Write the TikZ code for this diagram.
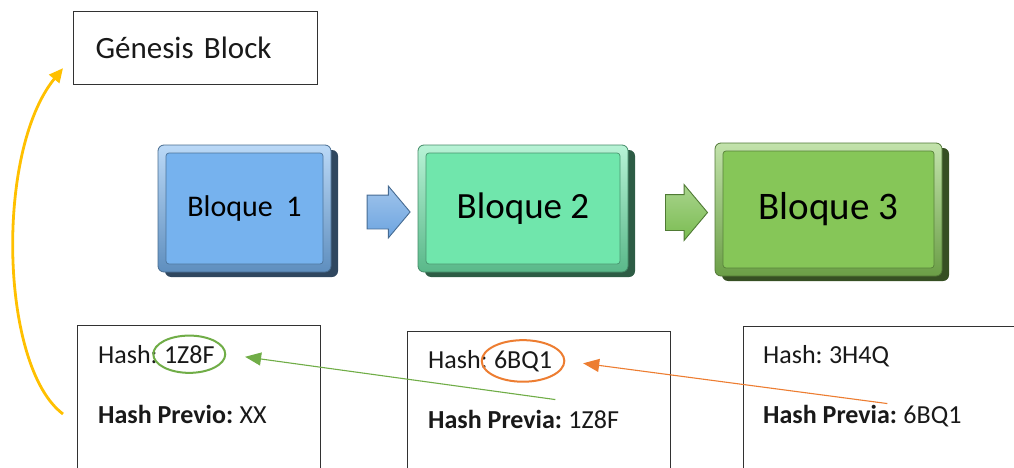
\documentclass[tikz,border=0pt]{standalone}
\usepackage{fontspec}
\setmainfont{Carlito}
\usepackage{tikz}
\usetikzlibrary{shapes.geometric, shapes.arrows, arrows.meta, positioning, calc, fit, shadows}
\definecolor{azulbloque}{RGB}{118,178,238}
\definecolor{verdebloque}{RGB}{112,230,172}
\definecolor{olivabloque}{RGB}{134,198,88}
\definecolor{azulflecha}{RGB}{108,164,224}
\definecolor{verdeflecha}{RGB}{122,188,80}
\definecolor{amarillo}{RGB}{255,192,0}
\definecolor{verdelinea}{RGB}{112,173,71}
\definecolor{naranja}{RGB}{237,125,49}
\definecolor{marco}{RGB}{50,50,50}
\definecolor{texto}{RGB}{25,25,25}
\tikzset{
  bloque/.style={rectangle, rounded corners=6pt, draw=#1!60!black, line width=0.8pt,
    top color=#1!50!white, bottom color=#1!80!black, text=black,
    path picture={\fill[#1, draw=#1!65!black, line width=0.7pt, rounded corners=3pt]
      ([shift={(8pt,-8pt)}]path picture bounding box.north west) rectangle
      ([shift={(-8pt,8pt)}]path picture bounding box.south east);},
    drop shadow={shadow xshift=7pt, shadow yshift=-5pt, fill=#1!40!black, opacity=1}},
  flecha/.style={single arrow, single arrow tip angle=100, inner xsep=0pt,
    draw=#1!65!black, line width=0.9pt, top color=#1!65!white, bottom color=#1},
  caja/.style={rectangle, draw=marco, line width=1.2pt, fill=white},
  txt/.style={inner sep=0pt, font=\fontsize{26}{30}\selectfont, text=texto},
  marca/.style={ellipse, draw=#1, line width=2pt, inner xsep=0pt, inner ysep=4pt},
  enlace/.style={-{Triangle[length=16pt,width=13pt]}, line width=1.1pt}
}
\begin{document}
\begin{tikzpicture}[x=1pt, y=-1pt]
  \useasboundingbox (0,0) rectangle (1014,468);
  \clip (0,0) rectangle (1014,468);
  % ── Génesis ──
  \node[caja, anchor=north west, minimum width=244pt, minimum height=73pt,
    text width=200pt, inner xsep=22pt, align=left, text=texto,
    font=\fontsize{31}{36}\selectfont] (genesis) at (73,11) {Génesis Block};
  % ── Cadena de bloques ──
  \node[bloque=azulbloque, minimum width=173pt, minimum height=127pt,
    font=\fontsize{30}{34}\selectfont] (b1) at (244.5,208.5) {Bloque\ \ 1};
  \node[bloque=verdebloque, minimum width=210pt, minimum height=127pt,
    font=\fontsize{37}{42}\selectfont] (b2) at (523,208.5) {Bloque 2};
  \node[bloque=olivabloque, minimum width=227pt, minimum height=133pt,
    font=\fontsize{39}{44}\selectfont] (b3) at (828.5,209.5) {Bloque 3};
  \node[flecha=azulflecha, minimum height=43pt, minimum width=51pt,
    inner ysep=16.5pt, single arrow head extend=9pt] (f1) at (381.5,212) {};
  \node[flecha=verdeflecha, minimum height=42pt, minimum width=55pt,
    inner ysep=17.5pt, single arrow head extend=10pt] (f2) at (679,212.5) {};
  % ── Cajas de hash ──
  \node[caja, anchor=north west, minimum width=243pt, minimum height=200pt] (c1) at (77,325) {};
  \node[caja, anchor=north west, minimum width=263pt, minimum height=200pt] (c2) at (407,331) {};
  \node[caja, anchor=north west, minimum width=320pt, minimum height=200pt] (c3) at (743,326) {};
  % caja 1
  \node[txt, anchor=base west] (h1) at (98,363) {Hash:};
  \node[txt, anchor=base west] (v1) at ([xshift=6pt]h1.base east) {1Z8F};
  \node[txt, anchor=base west] (p1) at (98,423) {\textbf{Hash Previo:}};
  \node[txt, anchor=base west] (q1) at ([xshift=6pt]p1.base east) {XX};
  % caja 2
  \node[txt, anchor=base west] (h2) at (428,368) {Hash:};
  \node[txt, anchor=base west] (v2) at ([xshift=6pt]h2.base east) {6BQ1};
  \node[txt, anchor=base west] (p2) at (428,428) {\textbf{Hash Previa:}};
  \node[txt, anchor=base west] (q2) at ([xshift=6pt]p2.base east) {1Z8F};
  % caja 3
  \node[txt, anchor=base west] (h3) at (763,363) {Hash:};
  \node[txt, anchor=base west] (v3) at ([xshift=6pt]h3.base east) {3H4Q};
  \node[txt, anchor=base west] (p3) at (763,423) {\textbf{Hash Previa:}};
  \node[txt, anchor=base west] (q3) at ([xshift=6pt]p3.base east) {6BQ1};
  % marcas
  \node[marca=verdelinea, fit=(v1)] (e1) {};
  \node[marca=naranja, fit=(v2)] (e2) {};
  % enlaces
  \draw[enlace, verdelinea, shorten >=19pt] ([shift={(-7pt,10pt)}]p2.north east) -- (e1.east);
  \draw[enlace, naranja, shorten >=18pt] ([shift={(-10pt,1pt)}]p3.north east) -- (e2.east);
  % retorno al génesis
  \draw[amarillo, line width=2.8pt, -{Triangle[length=14pt,width=13pt]}]
    ($(c1.west |- p1.center)+(-14pt,0)$) .. controls +(-63,-47) and +(-68,83)
    .. ([shift={(-10pt,17pt)}]genesis.south west);
\end{tikzpicture}
\end{document}
